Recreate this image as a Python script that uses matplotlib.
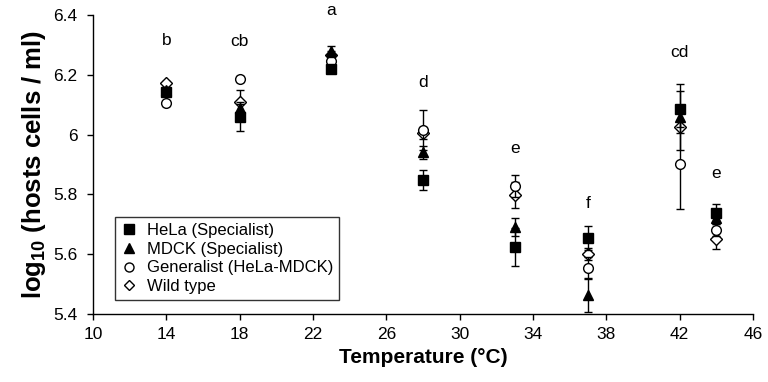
import matplotlib
matplotlib.use("Agg")
import matplotlib.pyplot as plt
from matplotlib.lines import Line2D
import numpy as np

plt.rcParams['font.family'] = ['Liberation Sans', 'DejaVu Sans']
plt.rcParams['mathtext.fontset'] = 'custom'
plt.rcParams['mathtext.rm'] = 'Liberation Sans'
plt.rcParams['mathtext.bf'] = 'Liberation Sans:bold'

temps = [14, 18, 23, 28, 33, 37, 42, 44]

hela = [6.141, 6.058, 6.220, 5.847, 5.624, 5.654, 6.085, 5.737]
hela_err = [0.010, 0.045, 0.010, 0.033, 0.065, 0.040, 0.060, 0.030]

mdck = [6.150, 6.090, 6.278, 5.940, 5.690, 5.463, 6.058, 5.720]
mdck_err = [0.010, 0.020, 0.018, 0.023, 0.030, 0.055, 0.110, 0.020]

gen = [6.105, 6.185, 6.245, 6.014, 5.827, 5.554, 5.900, 5.680]
gen_err = [0.008, 0.010, 0.012, 0.067, 0.037, 0.035, 0.150, 0.020]

wild = [6.172, 6.108, 6.265, 6.004, 5.797, 5.600, 6.025, 5.650]
wild_err = [0.008, 0.040, 0.015, 0.020, 0.043, 0.020, 0.020, 0.033]

letters = ['b', 'cb', 'a', 'd', 'e', 'f', 'cd', 'e']
letter_y = [6.315, 6.310, 6.415, 6.175, 5.954, 5.770, 6.275, 5.870]

series_labels = ['HeLa (Specialist)', 'MDCK (Specialist)',
                 'Generalist (HeLa-MDCK)', 'Wild type']

fig = plt.figure(figsize=(7.68, 3.82), dpi=100)
ax = fig.add_axes([0.121, 0.178, 0.8595, 0.783])

common = dict(ecolor='black', elinewidth=1.0, capsize=3, capthick=1.0,
              linestyle='none', markeredgecolor='black', markeredgewidth=1.0)

ax.errorbar(temps, wild, yerr=wild_err, marker='D', markersize=6,
            markerfacecolor='white', zorder=3, **common)
ax.errorbar(temps, gen, yerr=gen_err, marker='o', markersize=7,
            markerfacecolor='white', zorder=4, **common)
ax.errorbar(temps, mdck, yerr=mdck_err, marker='^', markersize=7.5,
            markerfacecolor='black', zorder=5, **common)
ax.errorbar(temps, hela, yerr=hela_err, marker='s', markersize=7,
            markerfacecolor='black', zorder=6, **common)

for t, l, y in zip(temps, letters, letter_y):
    ax.text(t, y, l, ha='center', va='center', fontsize=12.5, clip_on=False)

ax.set_xlim(10, 46)
ax.set_ylim(5.4, 6.4)
ax.set_xticks(np.arange(10, 47, 4))
ax.set_yticks([5.4, 5.6, 5.8, 6.0, 6.2, 6.4])
ax.set_yticklabels(['5.4', '5.6', '5.8', '6', '6.2', '6.4'])
ax.tick_params(axis='both', labelsize=12.5, direction='out', length=4, width=1)
ax.tick_params(axis='x', pad=5)
ax.tick_params(axis='y', pad=7)
for s in ['top', 'right']:
    ax.spines[s].set_visible(False)
for s in ['left', 'bottom']:
    ax.spines[s].set_linewidth(1)

ax.set_xlabel('Temperature (°C)', fontsize=15, fontweight='bold', labelpad=5)
ax.set_ylabel(r'$\mathbf{log_{10}}$ (hosts cells / ml)', fontsize=18.5,
              fontweight='bold', labelpad=4)

hs = [Line2D([], [], marker='s', color='black', linestyle='none', markersize=6.5),
      Line2D([], [], marker='^', color='black', linestyle='none', markersize=7),
      Line2D([], [], marker='o', markerfacecolor='white', markeredgecolor='black',
             linestyle='none', markersize=6.5),
      Line2D([], [], marker='D', markerfacecolor='white', markeredgecolor='black',
             linestyle='none', markersize=5)]
leg = ax.legend(hs, series_labels, loc='lower left', bbox_to_anchor=(0.033, 0.047),
                fontsize=12, frameon=True, fancybox=False, edgecolor='black',
                handlelength=1.0, handletextpad=0.6, labelspacing=0.22,
                borderpad=0.35, borderaxespad=0)
leg.get_frame().set_linewidth(1)

fig.savefig('out.png', dpi=100)
